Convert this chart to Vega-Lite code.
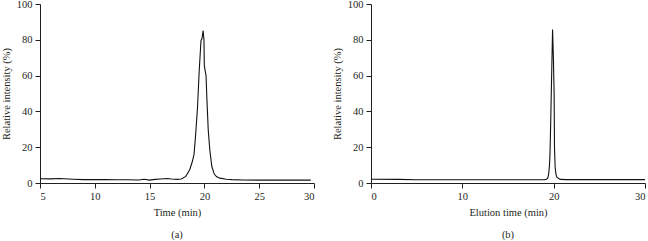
{
  "$schema": "https://vega.github.io/schema/vega-lite/v6.json",
  "padding": {"left": 1, "top": -1, "right": 0, "bottom": 0},
  "background": "white",
  "spacing": 17,
  "datasets": {
    "a": [
      {"t": 5.0, "v": 2.4}, {"t": 6.0, "v": 2.3}, {"t": 6.8, "v": 2.5}, {"t": 8.0, "v": 2.1},
      {"t": 9.0, "v": 1.9}, {"t": 10.0, "v": 1.9}, {"t": 11.0, "v": 1.9}, {"t": 12.0, "v": 1.8},
      {"t": 13.0, "v": 1.8}, {"t": 14.0, "v": 1.7}, {"t": 14.5, "v": 2.1}, {"t": 15.0, "v": 1.6},
      {"t": 15.5, "v": 2.0}, {"t": 16.0, "v": 2.2}, {"t": 16.6, "v": 2.5}, {"t": 17.0, "v": 2.2},
      {"t": 17.5, "v": 2.0}, {"t": 17.9, "v": 2.2}, {"t": 18.3, "v": 3.7}, {"t": 18.66, "v": 7.4},
      {"t": 18.9, "v": 12.0}, {"t": 19.06, "v": 16.2}, {"t": 19.21, "v": 27.8}, {"t": 19.37, "v": 42},
      {"t": 19.52, "v": 62}, {"t": 19.69, "v": 79.6}, {"t": 19.78, "v": 80.5}, {"t": 19.88, "v": 85.2},
      {"t": 19.96, "v": 80}, {"t": 19.99, "v": 66}, {"t": 20.06, "v": 63}, {"t": 20.15, "v": 60},
      {"t": 20.22, "v": 48}, {"t": 20.35, "v": 29.6}, {"t": 20.5, "v": 18}, {"t": 20.68, "v": 9.2},
      {"t": 20.9, "v": 5.0}, {"t": 21.1, "v": 3.6}, {"t": 21.4, "v": 2.7}, {"t": 22.0, "v": 2.1},
      {"t": 22.5, "v": 1.9}, {"t": 23.5, "v": 1.7}, {"t": 25.0, "v": 1.6}, {"t": 27.0, "v": 1.6},
      {"t": 29.7, "v": 1.6}
    ],
    "b": [
      {"t": 0.0, "v": 2.1}, {"t": 3.0, "v": 2.0}, {"t": 5.0, "v": 1.8}, {"t": 10.0, "v": 1.8},
      {"t": 15.0, "v": 1.8}, {"t": 18.0, "v": 1.8}, {"t": 19.0, "v": 1.9}, {"t": 19.2, "v": 2.1},
      {"t": 19.35, "v": 2.7}, {"t": 19.45, "v": 5.0}, {"t": 19.53, "v": 9.0}, {"t": 19.6, "v": 16.4},
      {"t": 19.68, "v": 35}, {"t": 19.79, "v": 63}, {"t": 19.88, "v": 85.8}, {"t": 19.97, "v": 70},
      {"t": 20.05, "v": 50}, {"t": 20.09, "v": 20}, {"t": 20.16, "v": 8.9}, {"t": 20.25, "v": 5.0},
      {"t": 20.35, "v": 3.3}, {"t": 20.7, "v": 2.0}, {"t": 21.5, "v": 1.9}, {"t": 25.0, "v": 1.9},
      {"t": 30.0, "v": 1.9}
    ]
  },
  "config": {
    "font": "Liberation Serif",
    "view": {"stroke": null},
    "axis": {
      "grid": false,
      "domainColor": "#231f20",
      "tickColor": "#231f20",
      "tickSize": 5,
      "labelFont": "Liberation Serif",
      "labelFontSize": 10.5,
      "labelColor": "#231f20",
      "labelPadding": 3,
      "titleFont": "Liberation Serif",
      "titleFontSize": 10.5,
      "titleFontWeight": "normal",
      "titleColor": "#231f20",
      "titlePadding": 6
    },
    "title": {"font": "Liberation Serif", "fontSize": 10.5, "fontWeight": "normal", "color": "#231f20", "orient": "bottom", "offset": 12}
  },
  "hconcat": [
    {
      "width": 274,
      "height": 179,
      "title": {"text": "(a)", "orient": "bottom"},
      "data": {"name": "a"},
      "mark": {"type": "line", "color": "#111111", "strokeWidth": 1.1},
      "encoding": {
        "x": {"field": "t", "type": "quantitative", "title": "Time (min)",
              "scale": {"domain": [5, 30], "nice": false, "zero": false},
              "axis": {"values": [5, 10, 15, 20, 25, 30]}},
        "y": {"field": "v", "type": "quantitative", "title": "Relative intensity (%)",
              "scale": {"domain": [0, 100], "nice": false},
              "axis": {"values": [0, 20, 40, 60, 80, 100], "titlePadding": 5}}
      }
    },
    {
      "width": 274,
      "height": 179,
      "title": {"text": "(b)", "orient": "bottom"},
      "data": {"name": "b"},
      "mark": {"type": "line", "color": "#111111", "strokeWidth": 1.1},
      "encoding": {
        "x": {"field": "t", "type": "quantitative", "title": "Elution time (min)",
              "scale": {"domain": [0, 30], "nice": false},
              "axis": {"values": [0, 10, 20, 30]}},
        "y": {"field": "v", "type": "quantitative", "title": "Relative intensity (%)",
              "scale": {"domain": [0, 100], "nice": false},
              "axis": {"values": [0, 20, 40, 60, 80, 100], "titlePadding": 5}}
      }
    }
  ]
}
